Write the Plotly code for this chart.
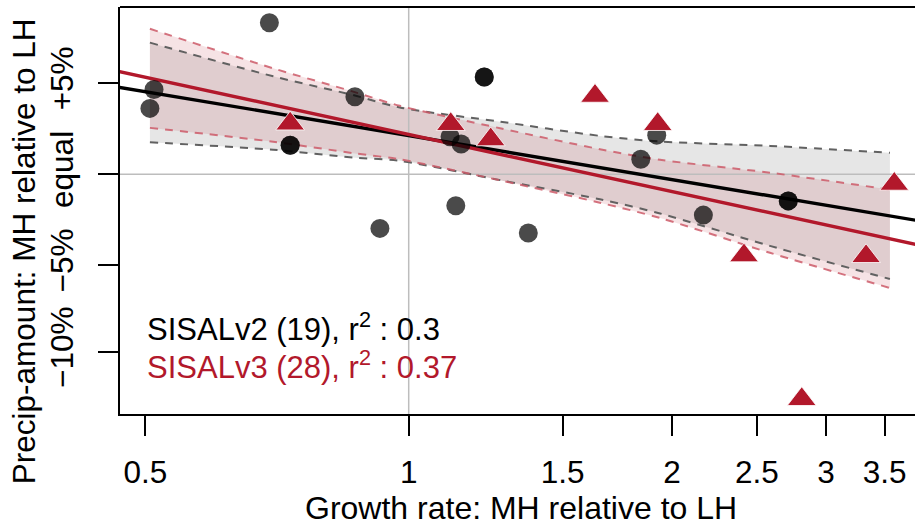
import numpy as np
import plotly.graph_objects as go

# ---- data ----
v2_growth = [0.506, 0.5115, 0.693, 0.732, 0.732, 0.868, 0.927, 1.115, 1.148,
             1.220, 1.220, 1.132, 1.370, 1.842, 1.921, 2.172, 2.716, 2.716]
v2_precip = [3.61, 4.65, 8.31, 1.59, 1.59, 4.25, -2.98, 2.05, 1.65,
             5.33, 5.33, -1.74, -3.23, 0.82, 2.14, -2.25, -1.47, -1.47]

v3_growth = [0.732, 1.117, 1.241, 1.633, 1.926, 2.417, 3.333, 3.590, 2.814]
v3_precip = [2.77, 2.74, 1.90, 4.29, 2.74, -4.47, -4.51, -0.54, -12.36]

# regression fits: precip = intercept + slope * ln(growth)
v2_intercept, v2_slope = 2.115, -3.482
v3_intercept, v3_slope = 2.18, -4.525

# confidence bands
band_x = [0.506, 0.700, 0.864, 0.977, 1.272, 1.654, 1.938, 2.588, 3.549]
v2_upper = [7.22, 5.37, 4.34, 3.66, 2.88, 2.10, 1.79, 1.55, 1.17]
v2_lower = [1.75, 1.34, 0.91, 0.73, -0.33, -1.38, -2.16, -3.94, -5.76]
v3_upper = [7.98, 5.81, 4.53, 3.75, 2.52, 1.37, 0.79, 0.08, -0.85]
v3_lower = [2.54, 1.78, 1.15, 0.81, -0.34, -1.57, -2.41, -4.32, -6.25]

x_tickvals = [0.5, 1, 1.5, 2, 2.5, 3, 3.5]
x_ticktext = ["0.5", "1", "1.5", "2", "2.5", "3", "3.5"]
y_tickvals = [5, 0, -5, -9.76]
y_ticktext = ["+5%", "equal", "\u22125%", "\u221210%"]

v2_label = "SISALv2 (19), r<sup>2</sup> : 0.3"
v3_label = "SISALv3 (28), r<sup>2</sup> : 0.37"
x_title = "Growth rate: MH relative to LH"
y_title = "Precip-amount: MH relative to LH"

# ---- styling ----
RED = "#B2182B"
FONT = "Liberation Sans, Arial, sans-serif"
XR = [-0.33004, 0.57879]
YR = [-13.17, 9.176]

fig = go.Figure()

# bands
fig.add_trace(go.Scatter(x=band_x, y=v2_upper, mode="lines",
                         line=dict(width=0, shape="spline", smoothing=0.8),
                         hoverinfo="skip", showlegend=False))
fig.add_trace(go.Scatter(x=band_x, y=v2_lower, mode="lines", fill="tonexty",
                         fillcolor="rgba(128,128,128,0.2)",
                         line=dict(width=0, shape="spline", smoothing=0.8),
                         hoverinfo="skip", showlegend=False))
fig.add_trace(go.Scatter(x=band_x, y=v3_upper, mode="lines",
                         line=dict(width=0, shape="spline", smoothing=0.8),
                         hoverinfo="skip", showlegend=False))
fig.add_trace(go.Scatter(x=band_x, y=v3_lower, mode="lines", fill="tonexty",
                         fillcolor="rgba(178,24,43,0.12)",
                         line=dict(width=0, shape="spline", smoothing=0.8),
                         hoverinfo="skip", showlegend=False))

# reference lines at growth = 1 and precip = equal
fig.add_trace(go.Scatter(x=[1, 1], y=[YR[0] - 5, YR[1] + 5], mode="lines",
                         line=dict(color="#bdbdbd", width=1.5),
                         hoverinfo="skip", showlegend=False))
fig.add_trace(go.Scatter(x=[0.3, 5], y=[0, 0], mode="lines",
                         line=dict(color="#bdbdbd", width=1.5),
                         hoverinfo="skip", showlegend=False))

# dashed band edges
for ys, col in [(v2_upper, "#616161"), (v2_lower, "#616161"),
                (v3_upper, "rgba(205,90,105,0.85)"), (v3_lower, "rgba(205,90,105,0.85)")]:
    fig.add_trace(go.Scatter(x=band_x, y=ys, mode="lines",
                             line=dict(color=col, width=2, dash="8px,7px",
                                       shape="spline", smoothing=0.8),
                             hoverinfo="skip", showlegend=False))

# regression lines across the whole axis
line_x = np.array([0.4, 4.2])
fig.add_trace(go.Scatter(x=line_x, y=v2_intercept + v2_slope * np.log(line_x),
                         mode="lines", line=dict(color="black", width=3.4),
                         hoverinfo="skip", showlegend=False))
fig.add_trace(go.Scatter(x=line_x, y=v3_intercept + v3_slope * np.log(line_x),
                         mode="lines", line=dict(color=RED, width=3.4),
                         hoverinfo="skip", showlegend=False))

# points
fig.add_trace(go.Scatter(x=v2_growth, y=v2_precip, mode="markers",
                         marker=dict(symbol="circle", size=19,
                                     color="rgba(0,0,0,0.71)", line=dict(width=0)),
                         name="SISALv2", showlegend=False))
fig.add_trace(go.Scatter(x=v3_growth, y=v3_precip, mode="markers",
                         marker=dict(symbol="triangle-up", size=25, color=RED,
                                     line=dict(color="rgba(255,255,255,0.8)", width=1)),
                         name="SISALv3", showlegend=False))

fig.update_layout(
    width=915, height=530,
    margin=dict(l=120, r=0, t=7, b=116, autoexpand=False),
    paper_bgcolor="white", plot_bgcolor="white",
    font=dict(family=FONT, size=31, color="black"),
    xaxis=dict(type="log", range=XR, tickvals=x_tickvals, ticktext=x_ticktext,
               automargin=False,
               showline=True, linecolor="black", linewidth=2,
               ticks="outside", ticklen=20, tickwidth=2, tickcolor="black",
               showgrid=False, zeroline=False, ticklabelstandoff=9,
               tickfont=dict(size=31.5)),
    yaxis=dict(range=YR, tickvals=y_tickvals, ticktext=y_ticktext,
               tickangle=-90, automargin=False,
               showline=True, linecolor="black", linewidth=2,
               ticks="outside", ticklen=20, tickwidth=2, tickcolor="black",
               showgrid=False, zeroline=False, ticklabelstandoff=12,
               tickfont=dict(size=31.5)),
    shapes=[dict(type="line", xref="paper", yref="paper", x0=0, x1=1, y0=1, y1=1,
                 line=dict(color="black", width=2))],
    annotations=[
        dict(text=v2_label, xref="paper", yref="paper", x=0.0315, y=(413.7 - 327) / 406.7,
             xanchor="left", yanchor="middle", showarrow=False,
             font=dict(size=31, color="black")),
        dict(text=v3_label, xref="paper", yref="paper", x=0.0315, y=(413.7 - 364.5) / 406.7,
             xanchor="left", yanchor="middle", showarrow=False,
             font=dict(size=31, color=RED)),
        dict(text=x_title, xref="paper", yref="paper", x=(521 - 120) / 795,
             y=(413.7 - 508) / 406.7, xanchor="center", yanchor="middle",
             showarrow=False, font=dict(size=32)),
        dict(text=y_title, xref="paper", yref="paper", x=(24 - 120) / 795,
             y=(413.7 - 251) / 406.7, xanchor="center", yanchor="middle",
             textangle=-90, showarrow=False, font=dict(size=31.5)),
    ],
)

fig.write_html("out.html", config={"displayModeBar": False},
               post_script="document.body.style.margin='0';document.body.style.overflow='hidden';")
